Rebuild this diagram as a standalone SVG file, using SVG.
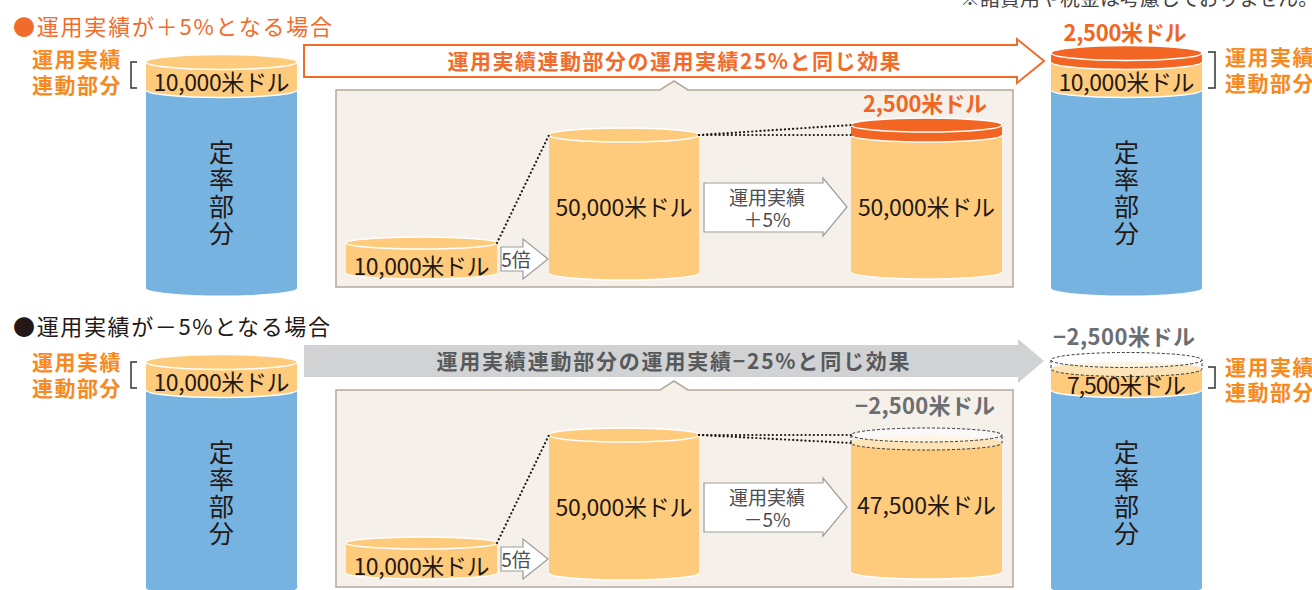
<svg xmlns="http://www.w3.org/2000/svg" width="1312" height="590" viewBox="0 0 1312 590">
<style>
text{font-family:"Noto Sans CJK JP","Noto Sans",sans-serif;}
.t-or{fill:#f26b2b;font-size:22px;}
.t-dk{fill:#231815;font-size:22px;}
.lab{fill:#f7891f;font-size:21px;font-weight:bold;letter-spacing:1.5px;}
.val{fill:#231815;font-size:23px;text-anchor:middle;}
.vert{fill:#231815;font-size:25px;text-anchor:middle;writing-mode:vertical-rl;letter-spacing:2px;}
.amt-or{fill:#f26522;font-size:22px;font-weight:bold;text-anchor:middle;}
.amt-gr{fill:#6d6e71;font-size:22px;font-weight:bold;text-anchor:middle;}
.blue{fill:#77b3e1;}
.yel{fill:#fecb7d;}
.yel-lt{fill:#fde3b8;}
.red{fill:#f26522;}
.face{stroke:#fff;stroke-width:1.5;}
.wline{fill:none;stroke:#fff;stroke-width:1.5;}
.brk{fill:none;stroke:#333;stroke-width:1.5;}
.dot{fill:none;stroke:#231815;stroke-width:2.2;stroke-dasharray:0.1 4;stroke-linecap:round;}
.dash{fill:none;stroke:#333;stroke-width:1;stroke-dasharray:3 2;}
.panel{fill:#f5f0ea;stroke:#b5a89c;stroke-width:1.5;}
.sarrow{fill:#fff;stroke:#9d9d9d;stroke-width:1.2;}
.sa-txt{fill:#4d4d4f;font-size:19px;text-anchor:middle;}
</style>

<!-- note (cut off at top) -->
<text x="960" y="6" style="fill:#444;font-size:20px;">※諸費用や税金は考慮しておりません。</text>

<!-- ===== Section 1 ===== -->
<g id="title-plus"><text x="13" y="35" class="t-or" textLength="319" lengthAdjust="spacing">●運用実績が＋5%となる場合</text></g>

<g id="label-left-top">
<text class="lab"><tspan x="32" y="67">運用実績</tspan><tspan x="32" y="93">連動部分</tspan></text>
<path class="brk" d="M137,62 H131 V88 H137"/>
</g>

<g id="cyl-left-top">
<path class="blue" d="M146,90 V288 A75.5,7.5 0 0 0 297,288 V90 Z"/>
<path class="yel" d="M146,62 V90 A75.5,7.5 0 0 0 297,90 V62 Z"/>
<path class="wline" d="M146,90 A75.5,7.5 0 0 0 297,90"/>
<ellipse class="yel face" cx="221.5" cy="62" rx="75.5" ry="7.5"/>
<text x="221.5" y="91" class="val" textLength="136">10,000米ドル</text>
<text x="221.5" y="194" class="vert">定率部分</text>
</g>

<g id="panel-top">
<path class="panel" d="M336,90 H660 L674,81 L688,90 H1013 V287 H336 Z"/>
</g>

<g id="cyl-small-top">
<path class="yel" d="M346,243 V273 A75.5,6 0 0 0 497,273 V243 Z"/>
<path class="wline" d="M346,273 A75.5,6 0 0 0 497,273"/>
<ellipse class="yel face" cx="421.5" cy="243" rx="75.5" ry="6"/>
<text x="421.5" y="275" class="val" textLength="136">10,000米ドル</text>
</g>

<g id="cyl-mid-top">
<path class="yel" d="M549,135 V273 A75,7 0 0 0 699,273 V135 Z"/>
<path class="wline" d="M549,273 A75,7 0 0 0 699,273"/>
<ellipse class="yel face" cx="624" cy="135" rx="75" ry="7"/>
<text x="624" y="216" class="val" textLength="137">50,000米ドル</text>
</g>

<g id="cyl-right-inner-top">
<path class="yel" d="M851,135 V272 A75.5,7 0 0 0 1002,272 V135 Z"/>
<path class="wline" d="M851,272 A75.5,7 0 0 0 1002,272"/>
<path class="red" d="M851,125 V135 A75.5,7 0 0 0 1002,135 V125 Z"/>
<path class="wline" d="M851,135 A75.5,7 0 0 0 1002,135"/>
<ellipse class="red face" cx="926.5" cy="125" rx="75.5" ry="7"/>
<text x="926.5" y="216" class="val" textLength="137">50,000米ドル</text>
<text x="925" y="112" class="amt-or" textLength="124">2,500米ドル</text>
</g>

<g id="cyl-right-top">
<path class="blue" d="M1051,90 V288 A75.5,7.5 0 0 0 1202,288 V90 Z"/>
<path class="yel" d="M1051,62 V90 A75.5,7.5 0 0 0 1202,90 V62 Z"/>
<path class="wline" d="M1051,90 A75.5,7.5 0 0 0 1202,90"/>
<path class="red" d="M1051,53 V62 A75.5,7.5 0 0 0 1202,62 V53 Z"/>
<path class="wline" d="M1051,62 A75.5,7.5 0 0 0 1202,62"/>
<ellipse class="red face" cx="1126.5" cy="53" rx="75.5" ry="7.5"/>
<text x="1126.5" y="91" class="val" textLength="136">10,000米ドル</text>
<text x="1125" y="41" class="amt-or" textLength="123">2,500米ドル</text>
<text x="1126.5" y="194" class="vert">定率部分</text>
</g>

<g id="label-right-top">
<path class="brk" d="M1208,52 H1215 V88 H1208"/>
<text class="lab"><tspan x="1225" y="65">運用実績</tspan><tspan x="1225" y="91">連動部分</tspan></text>
</g>

<!-- ===== Section 2 ===== -->
<g id="title-minus"><text x="13" y="335" class="t-dk" textLength="317" lengthAdjust="spacing">●運用実績が－5%となる場合</text></g>

<g id="label-left-bottom">
<text class="lab"><tspan x="32" y="370">運用実績</tspan><tspan x="32" y="396">連動部分</tspan></text>
<path class="brk" d="M137,362 H131 V388 H137"/>
</g>

<g id="cyl-left-bottom">
<path class="blue" d="M146,390 V588 A75.5,7.5 0 0 0 297,588 V390 Z"/>
<path class="yel" d="M146,362 V390 A75.5,7.5 0 0 0 297,390 V362 Z"/>
<path class="wline" d="M146,390 A75.5,7.5 0 0 0 297,390"/>
<ellipse class="yel face" cx="221.5" cy="362" rx="75.5" ry="7.5"/>
<text x="221.5" y="391" class="val" textLength="136">10,000米ドル</text>
<text x="221.5" y="494" class="vert">定率部分</text>
</g>

<g id="panel-bottom">
<path class="panel" d="M336,390 H660 L674,381 L688,390 H1013 V587 H336 Z"/>
</g>

<g id="cyl-small-bottom">
<path class="yel" d="M346,543 V573 A75.5,6 0 0 0 497,573 V543 Z"/>
<path class="wline" d="M346,573 A75.5,6 0 0 0 497,573"/>
<ellipse class="yel face" cx="421.5" cy="543" rx="75.5" ry="6"/>
<text x="421.5" y="575" class="val" textLength="136">10,000米ドル</text>
</g>

<g id="cyl-mid-bottom">
<path class="yel" d="M549,435 V573 A75,7 0 0 0 699,573 V435 Z"/>
<path class="wline" d="M549,573 A75,7 0 0 0 699,573"/>
<ellipse class="yel face" cx="624" cy="435" rx="75" ry="7"/>
<text x="624" y="516" class="val" textLength="137">50,000米ドル</text>
</g>

<g id="cyl-right-inner-bottom">
<path class="yel" d="M851,443 V572 A75.5,7 0 0 0 1002,572 V443 Z"/>
<path class="wline" d="M851,572 A75.5,7 0 0 0 1002,572"/>
<ellipse class="yel-lt" cx="926.5" cy="443" rx="75.5" ry="7"/>
<ellipse cx="926.5" cy="435" rx="75.5" ry="7" fill="#fff" fill-opacity="0.6"/>
<ellipse class="dash" cx="926.5" cy="435" rx="75.5" ry="7"/>
<path class="dash" d="M851,435 V443 A75.5,7 0 0 0 1002,443 V435"/>
<text x="926.5" y="514" class="val" textLength="139">47,500米ドル</text>
<text x="925" y="414" class="amt-gr" textLength="140">−2,500米ドル</text>
</g>

<g id="cyl-right-bottom">
<path class="blue" d="M1051,390 V588 A75.5,7.5 0 0 0 1202,588 V390 Z"/>
<path class="yel" d="M1051,369 V390 A75.5,7.5 0 0 0 1202,390 V369 Z"/>
<path class="wline" d="M1051,390 A75.5,7.5 0 0 0 1202,390"/>
<ellipse class="yel-lt" cx="1126.5" cy="369" rx="75.5" ry="7.5"/>
<ellipse cx="1126.5" cy="360" rx="75.5" ry="7.5" fill="#fff" fill-opacity="0.6"/>
<ellipse class="dash" cx="1126.5" cy="360" rx="75.5" ry="7.5"/>
<path class="dash" d="M1051,360 V369 A75.5,7.5 0 0 0 1202,369 V360"/>
<text x="1126.5" y="394" class="val" textLength="119">7,500米ドル</text>
<text x="1124" y="345" class="amt-gr" textLength="142">−2,500米ドル</text>
<text x="1126.5" y="494" class="vert">定率部分</text>
</g>

<g id="label-right-bottom">
<path class="brk" d="M1208,367 H1215 V388 H1208"/>
<text class="lab"><tspan x="1225" y="375">運用実績</tspan><tspan x="1225" y="400">連動部分</tspan></text>
</g>

<!-- ===== Connectors ===== -->
<g id="connectors">
<polygon points="304,45 1017,45 1017,39 1044,61 1017,83 1017,77 304,77" fill="#fff" stroke="#f26b2b" stroke-width="2"/>
<text x="674" y="69" style="fill:#f26b2b;font-size:21px;font-weight:bold;text-anchor:middle;" textLength="453">運用実績連動部分の運用実績25%と同じ効果</text>

<polygon points="304,345 1018,345 1018,339 1044,361 1018,383 1018,377 304,377" fill="#d1d2d4"/>
<text x="673" y="369" style="fill:#58595b;font-size:21px;font-weight:bold;text-anchor:middle;" textLength="473">運用実績連動部分の運用実績−25%と同じ効果</text>

<line class="dot" x1="497" y1="243" x2="549" y2="135"/>
<line class="dot" x1="699" y1="135" x2="851" y2="125"/>
<line class="dot" x1="699" y1="135" x2="851" y2="135"/>
<polygon class="sarrow" points="501,247 523,247 523,239 548,259 523,279 523,271 501,271"/>
<text x="516" y="267" style="fill:#4d4d4f;font-size:19px;text-anchor:middle;">5倍</text>
<polygon class="sarrow" points="704,183 823,183 823,178 847,207 823,236 823,232 704,232"/>
<text class="sa-txt"><tspan x="767" y="205">運用実績</tspan><tspan x="767" y="227">＋5%</tspan></text>

<line class="dot" x1="497" y1="543" x2="549" y2="435"/>
<line class="dot" x1="699" y1="435" x2="851" y2="435"/>
<line class="dot" x1="699" y1="435" x2="851" y2="443"/>
<polygon class="sarrow" points="501,547 523,547 523,539 548,559 523,579 523,571 501,571"/>
<text x="516" y="567" style="fill:#4d4d4f;font-size:19px;text-anchor:middle;">5倍</text>
<polygon class="sarrow" points="704,483 823,483 823,478 847,507 823,536 823,532 704,532"/>
<text class="sa-txt"><tspan x="767" y="505">運用実績</tspan><tspan x="767" y="527">－5%</tspan></text>
</g>
</svg>
